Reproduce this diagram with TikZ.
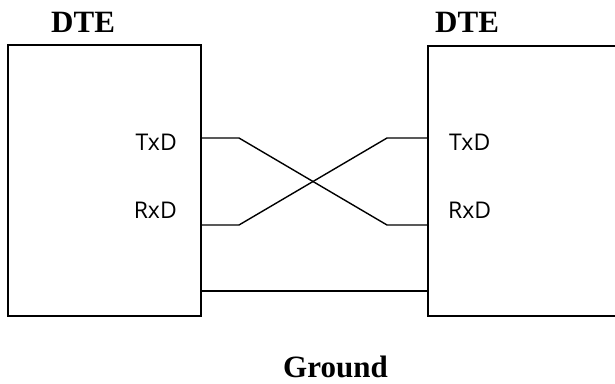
\documentclass[tikz,border=0pt]{standalone}
\usepackage{fontspec}
\setmainfont{Liberation Serif}
\newfontfamily\pinfont{Open Sans}
\usetikzlibrary{calc, positioning}
\tikzset{
  rs/box/.style={draw, line width=1.6pt, inner sep=0pt, anchor=north west},
  rs/wire/.style={line width=1.4pt},
  rs/title/.style={font=\fontsize{31}{31}\selectfont\bfseries, inner sep=0pt},
  rs/pin/.style={font=\pinfont\fontsize{23}{23}\selectfont, inner sep=0pt},
}

\begin{document}
\begin{tikzpicture}[x=1pt, y=-1pt]
  \useasboundingbox (0,0) rectangle (615,383);

  % Boxes
  \node[rs/box, minimum width=193pt, minimum height=271pt] (dteL) at (7,44) {};
  \node[rs/box, minimum width=200pt, minimum height=270pt] (dteR) at (427,45) {};

  \node[rs/title, anchor=base west] (titleL) at (51,32) {DTE};
  \node[rs/title, anchor=base west] (titleR) at (435,32) {DTE};

  % Pins
  \node[rs/pin, anchor=base east] (txL) at (177,150) {TxD};
  \node[rs/pin, anchor=base east] (rxL) at (177,218) {RxD};
  \node[rs/pin, anchor=base west] (txR) at (449,150) {TxD};
  \node[rs/pin, anchor=base west] (rxR) at (448,218) {RxD};

  \coordinate (lTx) at (200,138);
  \coordinate (lRx) at (200,225);
  \coordinate (lGnd) at (200,291);
  \coordinate (rTx) at (427,138);
  \coordinate (rRx) at (427,225);
  \coordinate (rGnd) at (427,291);

  % Crossed wires
  \draw[rs/wire] (lTx) -- ++(39,0) -- ($(rRx)+(-40,0)$) -- (rRx);
  \draw[rs/wire] (lRx) -- ++(39,0) -- ($(rTx)+(-40,0)$) -- (rTx);
  \draw[rs/wire] (lGnd) -- (rGnd);

  \node[rs/title, anchor=base west] (gnd) at (283,377) {Ground};
\end{tikzpicture}
\end{document}
